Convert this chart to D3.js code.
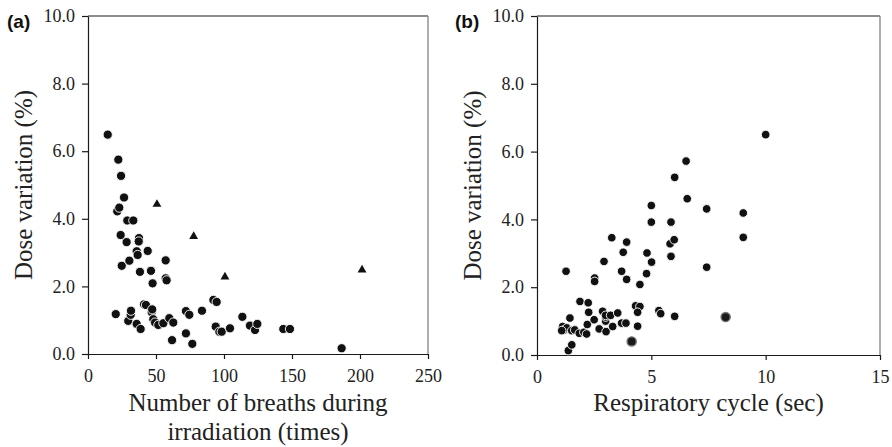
<!DOCTYPE html>
<html>
<head>
<meta charset="utf-8">
<script src="https://cdn.jsdelivr.net/npm/d3@7"></script>
<style>
  html, body { margin: 0; padding: 0; background: #fff; }
  svg { display: block; }
  .serif, .serif text { font-family: "Liberation Serif", "Tinos", "Times New Roman", "DejaVu Serif", serif !important; }
  .sansb { font-family: "Liberation Sans", Arial, sans-serif; font-weight: bold; }
</style>
</head>
<body>
<svg id="chart" width="892" height="447"></svg>
<script>
// ---------- DATA ----------
// Panel (a): number of breaths during irradiation vs dose variation (%)
const breathsCircle = [14.5,22.3,24.3,26.5,21.5,23,24,24.8,28.9,33.3,28.4,30.4,37.5,37.3,35.8,36.5,38.2,43.9,46.3,47.5,57.1,57.1,57.8,
  20.4,29.6,31.4,31.6,35.8,38.7,41.2,42.6,46.8,47.2,48,49.3,51.7,55.4,59.8,62.7,61.8,72,74.5,72,76.7,83.8,92.2,94.6,93.9,96.6,98.3,104.4,113.5,119.1,122.8,124.5,143.6,148.5,186.5];
const doseCircleA = [6.49,5.75,5.27,4.63,4.22,4.33,3.52,2.61,3.95,3.95,3.31,2.76,3.43,3.33,3.04,2.93,2.43,3.05,2.46,2.09,2.77,2.24,2.18,
  1.18,0.98,1.16,1.28,0.89,0.74,1.47,1.45,1.24,1.32,1.03,0.93,0.86,0.91,1.06,0.93,0.41,1.27,1.16,0.61,0.30,1.28,1.60,1.54,0.81,0.66,0.66,0.76,1.10,0.84,0.71,0.89,0.74,0.74,0.17];
const breathsTriangle = [50.7, 77.7, 100.7, 201.5];
const doseTriangleA = [4.43, 3.48, 2.28, 2.49];

// Panel (b): respiratory cycle (sec) vs dose variation (%)
const cycleSec = [1.27,1.12,1.2,1.3,1.08,1.44,1.52,1.65,1.37,1.52,1.88,1.85,2.05,2.17,2.24,2.26,2.2,2.5,2.52,2.52,2.72,2.87,2.93,3.02,3.0,3.0,3.0,3.27,3.31,3.22,3.53,3.7,3.7,3.77,3.92,3.92,3.89,4.31,4.5,4.4,4.4,4.5,4.79,4.81,5.0,5.0,5.01,5.33,5.41,5.86,5.82,6.0,5.86,6.02,6.02,6.52,6.57,7.42,9.02,9.02,7.42,10.0];
const doseB = [2.47,0.84,0.74,0.80,0.72,1.09,0.72,0.74,0.13,0.30,1.58,0.64,0.67,0.62,1.54,1.26,0.90,1.04,2.27,2.17,0.77,1.29,2.76,0.69,1.0,1.12,1.17,3.46,0.84,1.17,1.24,0.94,2.47,3.03,3.33,2.23,0.94,1.45,1.43,1.26,0.85,2.08,2.40,3.01,4.41,3.92,2.74,1.31,1.22,2.91,3.28,3.40,3.92,1.14,5.24,5.72,4.61,4.31,4.19,3.47,2.59,6.5];
const cycleGray = [4.14, 8.25];
const doseGray = [0.40, 1.12];

const yTicks = [0, 2, 4, 6, 8, 10];
const xTicksA = [0, 50, 100, 150, 200, 250];
const xTicksB = [0, 5, 10, 15];

// ---------- DRAW ----------
const svg = d3.select("#chart");
const axisColor = "#1a1a1a";

function panel(opt) {
  const x = d3.scaleLinear().domain(opt.xDomain).range([opt.left, opt.right]);
  const y = d3.scaleLinear().domain([0, 10]).range([opt.bottom, opt.top]);
  const g = svg.append("g");

  // right & top frame
  g.append("line").attr("x1", opt.left).attr("x2", opt.right).attr("y1", opt.top).attr("y2", opt.top)
    .attr("stroke", axisColor).attr("stroke-width", 1.2);
  g.append("line").attr("x1", opt.right).attr("x2", opt.right).attr("y1", opt.top).attr("y2", opt.bottom)
    .attr("stroke", "#8a8a8a").attr("stroke-width", 1.4);

  const ax = g.append("g").attr("transform", `translate(0,${opt.bottom})`)
    .call(d3.axisBottom(x).tickValues(opt.xTicks).tickSizeInner(5).tickSizeOuter(0).tickPadding(10).tickFormat(d3.format("d")));
  const ay = g.append("g").attr("transform", `translate(${opt.left},0)`)
    .call(d3.axisLeft(y).tickValues(yTicks).tickSizeInner(6).tickSizeOuter(0).tickPadding(7).tickFormat(d3.format(".1f")));
  [ax, ay].forEach(a => {
    a.attr("font-family", null).attr("font-size", 18).attr("class", "serif");
    a.selectAll("path, line").attr("stroke", axisColor).attr("stroke-width", 1.2);
    a.selectAll("text").attr("fill", "#222");
  });

  // panel label
  g.append("text").attr("class", "sansb").attr("x", opt.labelX).attr("y", 28)
    .attr("font-size", 19).attr("fill", "#111").text(opt.label);

  // y title
  g.append("text").attr("class", "serif")
    .attr("transform", `translate(${opt.left - 56},${(opt.top + opt.bottom) / 2}) rotate(-90)`)
    .attr("text-anchor", "middle").attr("font-size", 25).attr("fill", "#222")
    .text("Dose variation (%)");

  // x title
  const xt = g.append("text").attr("class", "serif").attr("text-anchor", "middle")
    .attr("font-size", 25).attr("fill", "#222");
  opt.xTitle.forEach((line, i) => {
    xt.append("tspan").attr("x", (opt.left + opt.right) / 2).attr("y", 411 + i * 29).text(line);
  });
  return { x, y, g };
}

// Panel (a)
const A = panel({ left: 88, right: 428, top: 16, bottom: 354, xDomain: [0, 250], xTicks: xTicksA,
  label: "(a)", labelX: 7, xTitle: ["Number of breaths during", "irradiation (times)"] });
const ptsA = breathsCircle.map((v, i) => ({ x: v, y: doseCircleA[i] }));
A.g.append("g").selectAll("circle").data(ptsA).join("circle")
  .attr("cx", d => A.x(d.x)).attr("cy", d => A.y(d.y)).attr("r", 4.6)
  .attr("fill", "#111").attr("stroke", "#fff").attr("stroke-width", 0.9);
const triA = breathsTriangle.map((v, i) => ({ x: v, y: doseTriangleA[i] }));
const tri = d3.symbol().type(d3.symbolTriangle).size(34);
A.g.append("g").selectAll("path").data(triA).join("path")
  .attr("transform", d => `translate(${A.x(d.x)},${A.y(d.y)})`).attr("d", tri)
  .attr("fill", "#111");

// Panel (b)
const B = panel({ left: 537, right: 880, top: 16, bottom: 355, xDomain: [0, 15], xTicks: xTicksB,
  label: "(b)", labelX: 455, xTitle: ["Respiratory cycle (sec)"] });
const ptsB = cycleSec.map((v, i) => ({ x: v, y: doseB[i] }));
B.g.append("g").selectAll("circle").data(ptsB).join("circle")
  .attr("cx", d => B.x(d.x)).attr("cy", d => B.y(d.y)).attr("r", 4.3)
  .attr("fill", "#111").attr("stroke", "#fff").attr("stroke-width", 0.9);
const ptsG = cycleGray.map((v, i) => ({ x: v, y: doseGray[i] }));
B.g.append("g").selectAll("circle").data(ptsG).join("circle")
  .attr("cx", d => B.x(d.x)).attr("cy", d => B.y(d.y)).attr("r", 4.6)
  .attr("fill", "#1a1a1a").attr("stroke", "#777").attr("stroke-width", 1.4);
</script>
</body>
</html>
